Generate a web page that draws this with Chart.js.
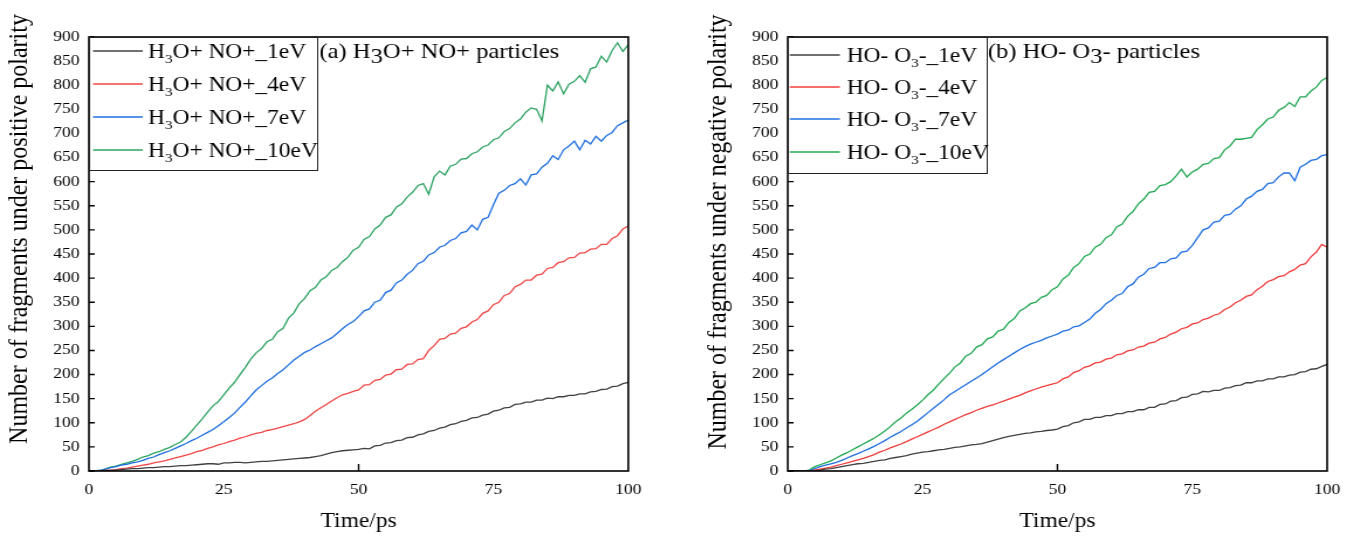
<!DOCTYPE html>
<html>
<head>
<meta charset="utf-8">
<title>Fragments under positive / negative polarity</title>
<script src="https://cdn.jsdelivr.net/npm/chart.js"></script>
<style>
  body { margin: 0; background: #fff; }
  .panel { position: absolute; top: 0; height: 540px; transform-origin: 0 0; transform: scaleX(1.17); }
  #wrapA { left: 0; }
  #wrapB { left: 700px; }
</style>
</head>
<body>
<div class="panel" id="wrapA"><canvas id="chartA" width="579" height="540"></canvas></div>
<div class="panel" id="wrapB"><canvas id="chartB" width="559" height="540"></canvas></div>

<script>
// time axis (ps)
const time = [
  0,1,2,3,4,5,6,7,8,9, 10,11,12,13,14,15,16,17,18,19, 20,21,22,23,24,25,26,27,28,29,
  30,31,32,33,34,35,36,37,38,39, 40,41,42,43,44,45,46,47,48,49, 50,51,52,53,54,55,56,57,58,59,
  60,61,62,63,64,65,66,67,68,69, 70,71,72,73,74,75,76,77,78,79, 80,81,82,83,84,85,86,87,88,89,
  90,91,92,93,94,95,96,97,98,99,100
];
const xTicks = [0, 25, 50, 75, 100];
const xMarks = [50];
const yTicks = [0,50,100,150,200,250,300,350,400,450,500,550,600,650,700,750,800,850,900];

// (a) H3O+ NO+ particles
const aBlack = [
  0,0,0,1,1,2,3,4,5,5, 6,7,7,8,9,9,10,11,11,12, 13,14,15,15,14,17,17,18,18,17,
  18,19,20,20,21,22,23,24,25,26, 27,28,30,32,35,38,40,42,43,44, 45,47,46,52,53,58,59,63,64,69,
  70,75,77,82,84,89,91,96,98,103, 105,110,111,116,118,124,126,131,132,138, 139,143,143,147,147,151,150,154,154,157,
  157,160,160,164,165,169,170,175,176,181,184
];
const aRed = [
  0,0,0,1,2,3,5,6,8,10, 12,14,17,19,21,24,27,30,33,36, 40,43,47,50,54,57,61,64,68,71,
  75,78,80,84,86,89,92,95,98,102, 107,115,124,131,138,145,152,158,161,165, 168,178,179,188,190,199,201,210,211,221,
  222,231,233,250,260,273,275,284,286,296, 299,309,314,327,332,345,350,364,368,382, 387,396,396,406,408,420,422,432,434,442,
  443,452,453,460,461,470,470,482,488,502,508
];
const aBlue = [
  0,0,1,4,7,9,12,14,17,19, 22,26,29,34,38,42,47,52,57,63, 68,74,80,86,94,102,111,120,132,143,
  156,168,177,186,193,202,210,220,230,238, 246,251,258,264,270,276,285,295,304,310, 320,332,336,350,354,370,375,390,396,408,
  416,430,435,448,453,464,468,478,482,494, 497,510,500,522,526,552,576,582,592,596, 606,593,614,616,630,638,654,646,666,674,
  684,666,686,678,694,684,696,702,716,722,728
];
const aGreen = [
  0,0,1,4,8,10,14,17,20,24, 29,32,37,40,45,49,55,60,70,82, 95,108,122,135,144,158,172,184,200,215,
  232,245,254,268,273,289,296,317,328,347, 358,374,381,396,403,416,422,434,443,458, 464,480,486,502,510,526,531,547,554,568,
  578,592,596,574,610,622,614,632,636,647, 648,658,662,672,676,687,691,704,710,722, 730,744,753,750,726,800,788,807,782,802,
  808,820,806,834,838,860,848,872,888,870,884
];

// (b) HO- O3- particles
const bBlack = [
  0,0,0,0,0,0,2,4,5,7, 9,11,13,15,16,18,20,22,23,26, 28,30,32,35,37,39,40,42,44,45,
  47,49,50,52,54,55,57,60,63,66, 69,72,74,76,78,79,81,82,84,85, 87,92,94,100,102,107,107,111,111,115,
  115,119,119,123,123,127,127,132,132,138, 139,145,146,152,153,159,160,165,164,167, 167,172,173,177,178,183,183,187,187,191,
  191,195,195,199,200,205,206,211,212,217,221
];
const bRed = [
  0,0,0,0,0,2,4,6,8,11, 14,17,20,23,26,30,34,39,43,48, 52,56,61,66,71,76,81,86,91,97,
  102,107,112,117,121,126,130,134,137,141, 145,149,153,157,162,166,170,174,177,180, 183,191,195,204,208,215,218,224,226,232,
  234,241,243,249,251,257,259,265,267,274, 277,284,288,295,298,305,307,314,317,323, 326,335,340,349,354,362,365,376,383,393,
  397,403,405,413,418,427,430,444,454,470,464
];
const bBlue = [
  0,0,0,0,1,5,9,12,15,18, 22,27,32,36,41,46,51,57,63,70, 76,82,89,96,103,112,121,130,139,148,
  158,165,172,179,186,193,200,208,216,224, 231,238,245,252,258,263,267,271,276,280, 284,290,292,299,301,308,315,327,335,347,
  354,364,368,382,388,402,408,420,422,432, 432,440,442,454,456,468,484,500,504,516, 518,530,532,543,550,564,570,580,584,596,
  598,610,618,618,602,630,636,644,646,654,656
];
const bGreen = [
  0,0,0,0,2,9,13,17,21,27, 33,38,44,50,56,62,68,75,83,92, 102,110,120,128,137,147,158,168,180,192,
  203,216,224,238,244,257,262,274,278,290, 294,308,316,332,338,347,350,360,364,376, 382,398,406,422,430,445,450,464,470,484,
  490,506,512,528,538,554,564,578,580,592, 594,600,612,626,610,620,626,636,638,648, 650,666,674,688,688,690,692,708,718,730,
  734,748,754,764,756,776,776,788,796,810,816
];

const aNames = [['H','3','O+ NO+_1eV'], ['H','3','O+ NO+_4eV'], ['H','3','O+ NO+_7eV'], ['H','3','O+ NO+_10eV']];
const bNames = [['HO- O','3','-_1eV'], ['HO- O','3','-_4eV'], ['HO- O','3','-_7eV'], ['HO- O','3','-_10eV']];
const aColors = ['#404040', '#f04646', '#1f6fe0', '#2ea362'];
const bColors = ['#404040', '#f03c3c', '#1f6fe0', '#22a852'];

const FONT = "'Liberation Serif', 'Times New Roman', serif";

// legend box, inward ticks, frame and y title
const decor = {
  id: 'decor',
  afterDraw(chart, args, o) {
    const { ctx, chartArea: a, scales: { x, y } } = chart;
    ctx.save();
    ctx.strokeStyle = '#000';
    ctx.lineWidth = 1.4;
    ctx.beginPath();
    yTicks.forEach(v => { const py = y.getPixelForValue(v); ctx.moveTo(a.left, py); ctx.lineTo(a.left + 5, py); });
    xMarks.forEach(v => { const px = x.getPixelForValue(v); ctx.moveTo(px, a.bottom); ctx.lineTo(px, a.bottom - 7); });
    ctx.stroke();
    ctx.lineWidth = 1.6;
    ctx.strokeRect(a.left, a.top, a.right - a.left, a.bottom - a.top);

    // y axis title
    ctx.save();
    ctx.translate(o.yTitleX, o.yTitleY);
    ctx.rotate(-Math.PI / 2);
    ctx.fillStyle = '#000';
    ctx.font = '24px ' + FONT;
    ctx.textAlign = 'center';
    ctx.textBaseline = 'middle';
    ctx.fillText(o.yTitle, 0, 0);
    ctx.restore();

    // legend
    const bx = a.left, by = a.top;
    ctx.fillStyle = '#fff';
    ctx.fillRect(bx, by, o.boxW, o.boxH);
    ctx.lineWidth = 1;
    ctx.strokeStyle = '#222';
    ctx.strokeRect(bx + 0.5, by + 0.5, o.boxW, o.boxH);
    ctx.textBaseline = 'alphabetic';
    o.names.forEach((parts, i) => {
      const ry = by + o.rows[i];
      ctx.strokeStyle = o.colors[i];
      ctx.lineWidth = 1.6;
      ctx.beginPath();
      ctx.moveTo(bx + o.swatch[0], ry);
      ctx.lineTo(bx + o.swatch[1], ry);
      ctx.stroke();
      ctx.fillStyle = '#000';
      let tx = bx + o.textX;
      const base = ry + 7;
      ctx.font = '20px ' + FONT;
      ctx.fillText(parts[0], tx, base); tx += ctx.measureText(parts[0]).width;
      ctx.font = '13px ' + FONT;
      ctx.fillText(parts[1], tx, base + 5); tx += ctx.measureText(parts[1]).width;
      ctx.font = '20px ' + FONT;
      ctx.fillText(parts[2], tx, base);
    });

    // panel label
    let lx = bx + o.boxW + o.labelGap;
    const lb = a.top + 21;
    ctx.fillStyle = '#000';
    ctx.font = '21px ' + FONT;
    ctx.fillText(o.label[0], lx, lb); lx += ctx.measureText(o.label[0]).width;
    ctx.fillText(o.label[1], lx, lb + 5); lx += ctx.measureText(o.label[1]).width;
    ctx.fillText(o.label[2], lx, lb);
    ctx.restore();
  }
};

function makeChart(id, series, colors, cfg) {
  return new Chart(document.getElementById(id), {
    type: 'line',
    data: {
      datasets: series.map((s, i) => ({
        data: time.map((t, k) => ({ x: t, y: s[k] })),
        borderColor: colors[i],
        borderWidth: 1.3,
        pointRadius: 0,
        tension: 0
      }))
    },
    options: {
      responsive: false,
      animation: false,
      devicePixelRatio: 1,
      events: [],
      layout: { padding: { left: 0, top: 37, right: cfg.padRight, bottom: 0 } },
      plugins: {
        legend: { display: false },
        tooltip: { enabled: false },
        decor: cfg.decor
      },
      scales: {
        x: {
          type: 'linear', min: 0, max: 100,
          afterBuildTicks: s => { s.ticks = xTicks.map(v => ({ value: v })); },
          afterFit: s => { s.height = 69; },
          grid: { display: false, drawTicks: false },
          border: { display: false },
          ticks: { font: { family: FONT, size: 15 }, color: '#000', padding: 10, maxRotation: 0, autoSkip: false },
          title: { display: true, text: 'Time/ps', font: { family: FONT, size: 20 }, color: '#000', padding: { top: 6, bottom: 6 } }
        },
        y: {
          min: 0, max: 900,
          afterBuildTicks: s => { s.ticks = yTicks.map(v => ({ value: v })); },
          afterFit: s => { s.width = cfg.yWidth; },
          grid: { display: false, drawTicks: false },
          border: { display: false },
          ticks: { font: { family: FONT, size: 15 }, color: '#000', padding: 8, autoSkip: false },
          title: { display: false }
        }
      }
    },
    plugins: [decor]
  });
}

makeChart('chartA', [aBlack, aRed, aBlue, aGreen], aColors, {
  padRight: 42, yWidth: 76,
  decor: {
    yTitle: 'Number of fragments under positive polarity', yTitleX: 17, yTitleY: 229,
    names: aNames, colors: aColors, boxW: 195, boxH: 133,
    rows: [14, 47, 80, 113], swatch: [3.5, 46], textX: 50.5,
    label: ['(a) H', '3', 'O+ NO+ particles'], labelGap: 2
  }
});

makeChart('chartB', [bBlack, bRed, bBlue, bGreen], bColors, {
  padRight: 23, yWidth: 75,
  decor: {
    yTitle: 'Number of fragments under negative polarity', yTitleX: 15.5, yTitleY: 232,
    names: bNames, colors: bColors, boxW: 170, boxH: 136,
    rows: [18, 50, 82, 115], swatch: [1.7, 44.5], textX: 50.4,
    label: ['(b) HO- O', '3', '- particles'], labelGap: 1
  }
});
</script>
</body>
</html>
